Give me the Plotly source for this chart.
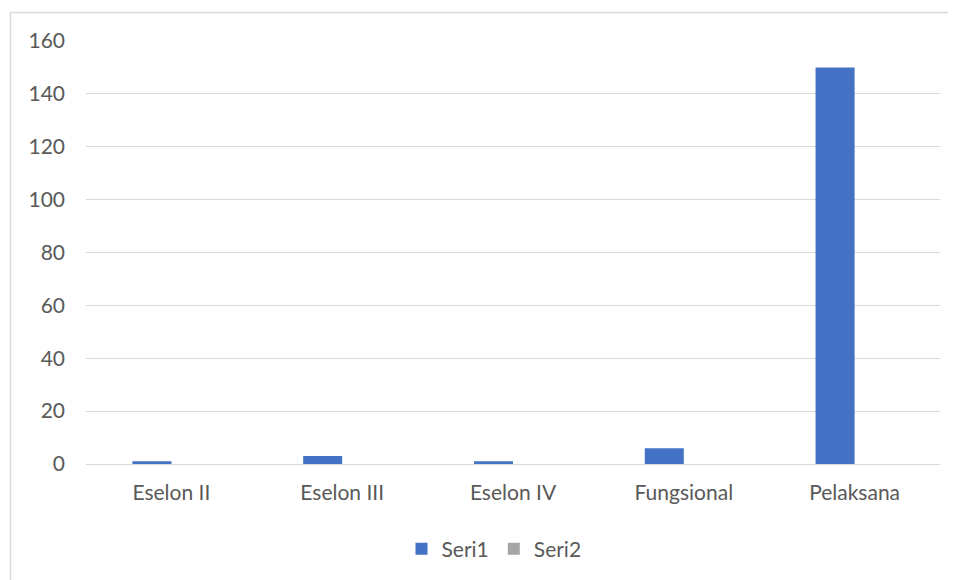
import plotly.graph_objects as go

categories = ["Eselon II", "Eselon III", "Eselon IV", "Fungsional", "Pelaksana"]
seri1 = [1, 3, 1, 6, 150]
seri2 = [0, 0, 0, 0, 0]
y_ticks = [0, 20, 40, 60, 80, 100, 120, 140, 160]

# page has an 8px body margin, so figure origin is at (8, 8) in the window
OFF = 8
W, H = 956 - OFF, 580 - OFF
L, R, T, B = 86 - OFF, 16, 41 - OFF, 116
pw, ph = W - L - R, H - T - B

def px(x):
    return (x - OFF - L) / pw

def py(y):
    return (H - B - (y - OFF)) / ph

font = dict(family="Lato, 'Open Sans', sans-serif", size=21, color="#595959")

fig = go.Figure()
fig.add_trace(go.Bar(name="Seri1", x=categories, y=seri1, marker=dict(color="#4472c4", line=dict(width=0))))
fig.add_trace(go.Bar(name="Seri2", x=categories, y=seri2, marker=dict(color="#a5a5a5", line=dict(width=0))))

fig.update_layout(
    width=W, height=H,
    margin=dict(l=L, r=R, t=T, b=B, autoexpand=False),
    paper_bgcolor="white", plot_bgcolor="white",
    barmode="group", bargap=0.543, bargroupgap=0,
    font=font,
    showlegend=True,
    legend=dict(orientation="h", x=px(494), xanchor="center", y=py(549), yanchor="middle",
                font=font, itemwidth=30, traceorder="normal"),
    xaxis=dict(type="category", range=[-0.5, 4.5], showgrid=False, showline=False, zeroline=False,
               ticks="", tickfont=font, ticklabelstandoff=14, fixedrange=True),
    yaxis=dict(range=[0, 160], tickvals=y_ticks, showgrid=True, gridcolor="#d9d9d9", gridwidth=1,
               zeroline=True, zerolinecolor="#d9d9d9", zerolinewidth=1, showline=False,
               ticks="", tickfont=font, ticklabelstandoff=20, fixedrange=True),
    shapes=[
        dict(type="line", xref="paper", yref="paper", x0=px(10.5), x1=px(10.5), y0=py(12), y1=py(600),
             line=dict(color="#d9d9d9", width=1.5)),
        dict(type="line", xref="paper", yref="paper", x0=px(10), x1=px(980), y0=py(12.5), y1=py(12.5),
             line=dict(color="#d9d9d9", width=1.5)),
    ],
)

fig.write_html("out.html")
